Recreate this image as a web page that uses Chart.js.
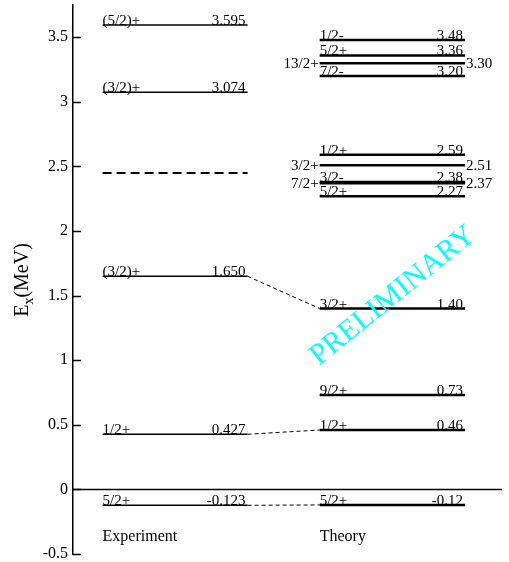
<!DOCTYPE html>
<html>
<head>
<meta charset="utf-8">
<script src="https://cdn.jsdelivr.net/npm/chart.js@4.4.1/dist/chart.umd.min.js"></script>
<style>
  html, body { margin: 0; padding: 0; background: #fff; }
  #wrap { width: 509px; height: 562px; }
</style>
</head>
<body>
<div id="wrap"><canvas id="chart"></canvas></div>
<script>
// level energies (MeV) and spins
const expEnergies = [3.595, 3.074, 2.45, 1.650, 0.427, -0.123];
const expSpins = ['(5/2)+', '(3/2)+', '', '(3/2)+', '1/2+', '5/2+'];

const thEnergies = [3.48, 3.36, 3.30, 3.20, 2.59, 2.51, 2.38, 2.37, 2.27, 1.40, 0.73, 0.46, -0.12];
const thSpins = ['1/2-', '5/2+', '13/2+', '7/2-', '1/2+', '3/2+', '3/2-', '7/2+', '5/2+', '3/2+', '9/2+', '1/2+', '5/2+'];

// experiment -> theory correspondences
const linkExp = [1.650, 0.427, -0.123];
const linkTheory = [1.40, 0.46, -0.12];

const yTicks = [-0.5, 0, 0.5, 1, 1.5, 2, 2.5, 3, 3.5];

// column extents on the hidden x scale
const EXP_X = [0.069, 0.407];
const TH_X = [0.575, 0.914];
const SERIF = '"Liberation Serif", "DejaVu Serif", serif';

function seg(x0, x1, y0, y1) {
    return [{x: x0, y: y0}, {x: x1, y: y1}];
}

const datasets = [];
// zero line
datasets.push({ data: seg(0, 1, 0, 0), borderColor: 'black', borderWidth: 1.5 });
expEnergies.forEach(function(e, i) {
    datasets.push({
        data: seg(EXP_X[0], EXP_X[1], e, e),
        borderColor: 'black',
        borderWidth: expSpins[i] === '' ? 2 : 1.5,
        borderDash: expSpins[i] === '' ? [9, 5] : [],
    });
});
thEnergies.forEach(function(e) {
    datasets.push({ data: seg(TH_X[0], TH_X[1], e, e), borderColor: 'black', borderWidth: 2.5 });
});
linkExp.forEach(function(e, i) {
    datasets.push({
        data: seg(EXP_X[1], TH_X[0], e, linkTheory[i]),
        borderColor: 'black', borderWidth: 1, borderDash: [4, 3],
    });
});

// labels, inward ticks, axis title and watermark
const levelLabels = {
    id: 'levelLabels',
    afterDatasetsDraw(chart) {
        const ctx = chart.ctx;
        const xs = chart.scales.x, ys = chart.scales.y;
        const area = chart.chartArea;
        ctx.save();
        ctx.fillStyle = 'black';
        ctx.strokeStyle = 'black';

        // inward tick marks
        ctx.lineWidth = 1.5;
        yTicks.forEach(function(v) {
            const py = Math.round(ys.getPixelForValue(v)) + 0.5;
            ctx.beginPath();
            ctx.moveTo(area.left, py);
            ctx.lineTo(area.left + 8, py);
            ctx.stroke();
        });

        ctx.font = '15px ' + SERIF;
        function column(energies, spins, cols, digits) {
            const xl = xs.getPixelForValue(cols[0]);
            const xr = xs.getPixelForValue(cols[1]);
            energies.forEach(function(e, i) {
                if (spins[i] === '') return;
                const py = ys.getPixelForValue(e);
                const gapAbove = i > 0 ? energies[i - 1] - e : 1;
                const val = e.toFixed(digits);
                if (gapAbove < 0.09) {
                    ctx.textBaseline = 'middle';
                    ctx.textAlign = 'right';
                    ctx.fillText(spins[i], xl - 1, py + 1);
                    ctx.textAlign = 'left';
                    ctx.fillText(val, xr + 1, py + 1);
                } else {
                    ctx.textBaseline = 'alphabetic';
                    ctx.textAlign = 'left';
                    ctx.fillText(spins[i], xl, py);
                    ctx.textAlign = 'right';
                    ctx.fillText(val, xr - 2, py);
                }
            });
        }
        column(expEnergies, expSpins, EXP_X, 3);
        column(thEnergies, thSpins, TH_X, 2);

        // column names
        ctx.font = '16px ' + SERIF;
        ctx.textAlign = 'left';
        ctx.textBaseline = 'alphabetic';
        const by = ys.getPixelForValue(-0.4);
        ctx.fillText('Experiment', xs.getPixelForValue(EXP_X[0]), by);
        ctx.fillText('Theory', xs.getPixelForValue(TH_X[0]), by);

        // y axis title E_x(MeV)
        ctx.save();
        ctx.translate(28, 280);
        ctx.rotate(-Math.PI / 2);
        ctx.font = '20px ' + SERIF;
        const wE = ctx.measureText('E').width;
        const wM = ctx.measureText('(MeV)').width;
        ctx.font = '14px ' + SERIF;
        const wx = ctx.measureText('x').width;
        const total = wE + wx + wM;
        let tx = -total / 2;
        ctx.textAlign = 'left';
        ctx.font = '20px ' + SERIF;
        ctx.fillText('E', tx, 0);
        tx += wE;
        ctx.font = '14px ' + SERIF;
        ctx.fillText('x', tx, 5);
        tx += wx;
        ctx.font = '20px ' + SERIF;
        ctx.fillText('(MeV)', tx, 0);
        ctx.restore();

        // watermark
        ctx.save();
        ctx.translate(393, 296);
        ctx.rotate(-39 * Math.PI / 180);
        ctx.fillStyle = '#00ffff';
        ctx.font = '30px ' + SERIF;
        ctx.textAlign = 'center';
        ctx.textBaseline = 'middle';
        ctx.fillText('PRELIMINARY', 0, 0);
        ctx.restore();

        ctx.restore();
    }
};

const config = {
    type: 'scatter',
    data: { datasets: datasets },
    options: {
        responsive: true,
        maintainAspectRatio: false,
        animation: false,
        showLine: true,
        elements: { point: { radius: 0, hoverRadius: 0 }, line: { tension: 0 } },
        layout: { padding: { top: 5, right: 7, bottom: 8, left: 0 } },
        plugins: { legend: { display: false }, tooltip: { enabled: false } },
        scales: {
            x: { type: 'linear', min: 0, max: 1, display: false },
            y: {
                type: 'linear',
                min: -0.5,
                max: 3.75,
                afterBuildTicks: function(scale) {
                    scale.ticks = yTicks.map(function(v) { return {value: v}; });
                },
                afterFit: function(scale) {
                    scale.width = 73;
                    scale.paddingTop = 0;
                    scale.paddingBottom = 0;
                },
                grid: { drawOnChartArea: false, drawTicks: false },
                border: { display: true, color: 'black', width: 1.5 },
                ticks: {
                    color: 'black',
                    padding: 5,
                    font: { family: SERIF, size: 16 },
                    callback: function(v) { return String(v); },
                },
            },
        },
    },
    plugins: [levelLabels],
};

const myChart = new Chart(document.getElementById('chart').getContext('2d'), config);
</script>
</body>
</html>
